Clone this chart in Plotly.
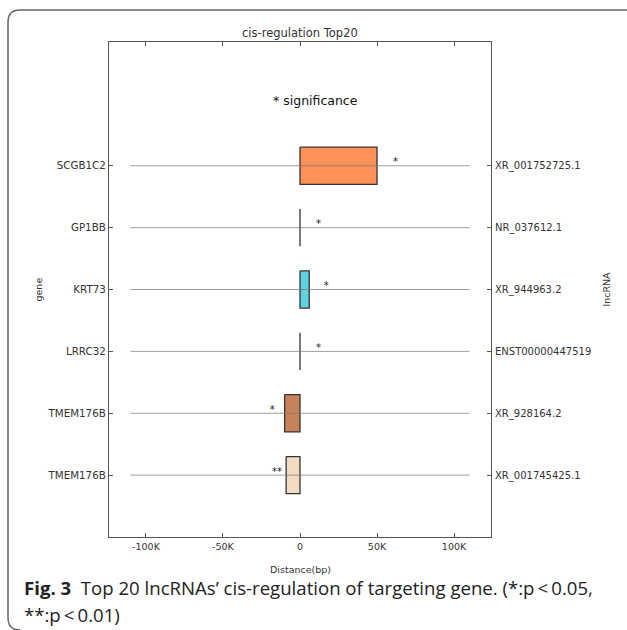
import plotly.graph_objects as go

genes = ["SCGB1C2", "GP1BB", "KRT73", "LRRC32", "TMEM176B", "TMEM176B"]
lncrnas = ["XR_001752725.1", "NR_037612.1", "XR_944963.2", "ENST00000447519", "XR_928164.2", "XR_001745425.1"]
box_start = [0, 0, 0, 0, -10000, -9000]
box_end = [50000, 0, 6000, 0, 0, 0]
box_colors = ["#fd9158", "#5fd2de", "#5fd2de", "#5fd2de", "#c8825a", "#f3dcc0"]
star_labels = ["*", "*", "*", "*", "*", "**"]
star_x = [62000, 12000, 17000, 12000, -18000, -15000]
line_start = -110000
line_end = 110000
xtick_vals = [-100000, -50000, 0, 50000, 100000]
xtick_text = ["-100K", "-50K", "0", "50K", "100K"]

W, H = 627, 630
L, R, T, B = 109, 491, 42, 537


def px(x):
    return (x - L) / (R - L)


def py(y):
    return (B - y) / (B - T)


fig = go.Figure()
half = 0.3
for i in range(len(genes)):
    x0, x1 = box_start[i], box_end[i]
    fig.add_trace(go.Scatter(
        x=[x0, x1, x1, x0, x0], y=[i - half, i - half, i + half, i + half, i - half],
        mode="lines", fill="toself", fillcolor=box_colors[i],
        line=dict(color="#333333", width=1.3), hoverinfo="skip", showlegend=False))
for i in range(len(genes)):
    fig.add_trace(go.Scatter(
        x=[line_start, line_end], y=[i, i], mode="lines",
        line=dict(color="rgba(120,120,120,0.7)", width=1), hoverinfo="skip", showlegend=False))
fig.add_trace(go.Scatter(
    x=star_x, y=[i - 0.05 for i in range(len(genes))], mode="text", text=star_labels,
    textposition="middle center", textfont=dict(family="DejaVu Sans", size=10, color="#222"),
    hoverinfo="skip", showlegend=False))
# invisible trace for y2
fig.add_trace(go.Scatter(x=[0], y=[0], yaxis="y2", mode="markers", marker=dict(opacity=0),
                         hoverinfo="skip", showlegend=False))

axis_common = dict(showline=True, linecolor="#555555", linewidth=1.3, mirror="ticks",
                   ticks="inside", ticklen=4, tickcolor="#555555", showgrid=False, zeroline=False)
fig.update_layout(
    width=W, height=H,
    margin=dict(l=L, r=W - R, t=T, b=H - B),
    plot_bgcolor="white", paper_bgcolor="white",
    xaxis=dict(range=[-124000, 124000], tickvals=xtick_vals, ticktext=xtick_text,
               tickfont=dict(family="DejaVu Sans", size=9.5, color="#333333"), **axis_common),
    yaxis=dict(range=[6, -2], tickvals=list(range(len(genes))), ticktext=genes,
               tickfont=dict(family="DejaVu Sans", size=10.3, color="#333333"), **axis_common),
    yaxis2=dict(range=[6, -2], tickvals=list(range(len(genes))), ticktext=lncrnas, overlaying="y",
                side="right", showline=False, ticks="", showgrid=False, zeroline=False,
                ticklabelstandoff=3,
                tickfont=dict(family="DejaVu Sans", size=10, color="#333333")),
)

ann_font = dict(family="DejaVu Sans", color="#333333")
fig.add_annotation(x=0.5, y=py(33), xref="paper", yref="paper", text="cis-regulation Top20",
                   showarrow=False, font=dict(size=11.5, **ann_font), xanchor="center", yanchor="middle")
fig.add_annotation(x=10000, y=-1.05, xref="x", yref="y", text="* significance",
                   showarrow=False, font=dict(size=12.5, family="DejaVu Sans", color="#111"))
fig.add_annotation(x=0.5, y=py(569), xref="paper", yref="paper", text="Distance(bp)",
                   showarrow=False, font=dict(size=9.5, **ann_font), xanchor="center", yanchor="middle")
fig.add_annotation(x=px(38), y=0.5, xref="paper", yref="paper", text="gene", textangle=-90,
                   showarrow=False, font=dict(size=9.5, **ann_font), xanchor="center", yanchor="middle")
fig.add_annotation(x=px(606), y=0.5, xref="paper", yref="paper", text="lncRNA", textangle=-90,
                   showarrow=False, font=dict(size=9.5, **ann_font), xanchor="center", yanchor="middle")

cap_font = dict(family="Open Sans", size=18.6, color="#222222")
fig.add_annotation(x=px(22), y=py(587), xref="paper", yref="paper",
                   text="<b>Fig. 3</b>  Top 20 lncRNAs\u2019 cis-regulation of targeting gene. (*:p\u2009<\u20090.05,",
                   showarrow=False, font=cap_font, xanchor="left", yanchor="middle")
fig.add_annotation(x=px(22), y=py(614), xref="paper", yref="paper",
                   text="**:p\u2009<\u20090.01)",
                   showarrow=False, font=cap_font, xanchor="left", yanchor="middle")

path = (f"M {px(627)},{py(10)} L {px(20)},{py(10)} Q {px(8)},{py(10)} {px(8)},{py(22)} "
        f"L {px(8)},{py(618)} Q {px(8)},{py(630)} {px(20)},{py(630)}")
fig.add_shape(type="path", path=path, xref="paper", yref="paper",
              line=dict(color="#666666", width=1.5))

fig.write_html("out.html", config={"displayModeBar": False},
               post_script="document.body.style.margin='0';")
